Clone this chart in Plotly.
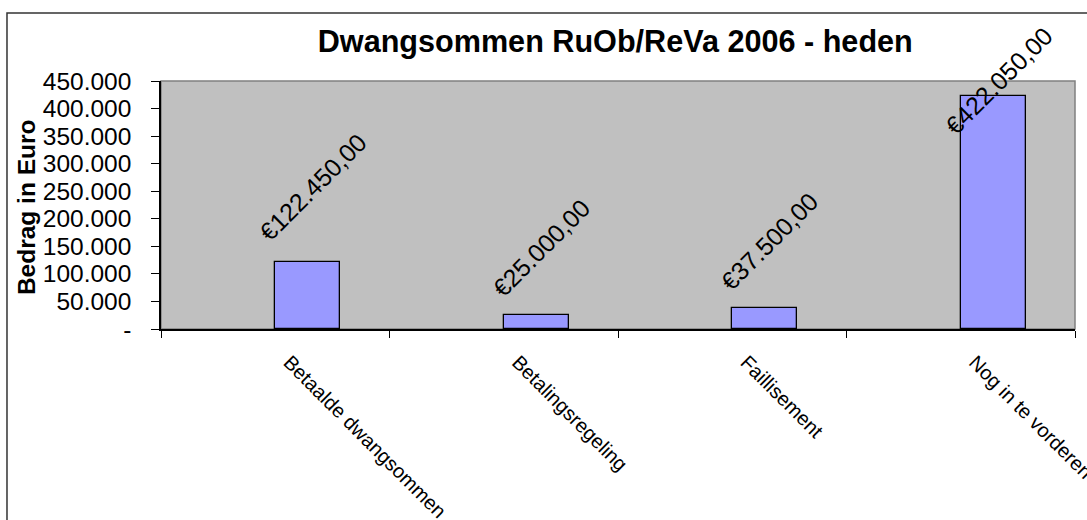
import plotly.graph_objects as go

# ---- data ----
categories = ["Betaalde dwangsommen", "Betalingsregeling", "Faillisement", "Nog in te vorderen"]
amounts = [122450, 25000, 37500, 422050]
y_tick_values = [0, 50000, 100000, 150000, 200000, 250000, 300000, 350000, 400000, 450000]
y_tick_labels = ["-", "50.000", "100.000", "150.000", "200.000", "250.000",
                 "300.000", "350.000", "400.000", "450.000"]
title_text = "Dwangsommen RuOb/ReVa 2006 - heden"
y_title = "Bedrag in Euro"


def euro(v):
    s = f"{v:,.2f}".replace(",", "X").replace(".", ",").replace("X", ".")
    return "\u20ac" + s


bar_labels = [euro(v) for v in amounts]

FONT = "Arial, Liberation Sans, sans-serif"
BAR_W = 0.285
label_yshift = [13, 10, 10, -46]

x_idx = list(range(len(categories)))

fig = go.Figure()
fig.add_trace(go.Bar(
    x=x_idx, y=amounts, width=BAR_W, offset=0,
    marker=dict(color="#9999FF", line=dict(color="#000000", width=1.3)),
    hoverinfo="skip",
))

for i, (v, t) in enumerate(zip(amounts, bar_labels)):
    fig.add_annotation(
        x=i + BAR_W / 2, y=v, xref="x", yref="y", text=t, textangle=-45,
        showarrow=False, xanchor="center", yanchor="bottom",
        xshift=5, yshift=label_yshift[i],
        font=dict(family=FONT, size=25, color="#000000"),
    )

fig.add_annotation(
    xref="paper", yref="paper", x=-0.147, y=0.49, text=f"<b>{y_title}</b>",
    textangle=-90, showarrow=False, xanchor="center", yanchor="middle",
    font=dict(family=FONT, size=24.5, color="#000000"),
)

# plot area with gray border
fig.add_shape(type="rect", xref="paper", yref="paper", x0=0, x1=1, y0=0, y1=1,
              fillcolor="#C0C0C0", line=dict(color="#808080", width=1.5), layer="below")
# outer chart frame
fig.add_shape(type="rect", xref="paper", yref="paper", x0=-0.1685, x1=1.05, y0=-0.85, y1=1.274,
              fillcolor="rgba(0,0,0,0)", line=dict(color="#333333", width=1.5), layer="below")

fig.update_layout(
    width=1087, height=520,
    margin=dict(l=161, r=12, t=81, b=191, autoexpand=False),
    paper_bgcolor="#FFFFFF", plot_bgcolor="#C0C0C0",
    showlegend=False,
    title=dict(text=f"<b>{title_text}</b>", x=0.497, xref="paper", xanchor="center",
               y=1 - 41 / 520, yref="container", yanchor="middle",
               font=dict(family=FONT, size=30.6, color="#000000")),
    font=dict(family=FONT, color="#000000"),
    bargap=0,
)

fig.update_xaxes(
    type="linear", range=[-0.5, len(categories) - 0.5], automargin=False,
    tickmode="array", tickvals=x_idx, ticktext=categories,
    tickangle=45, showgrid=False, zeroline=False,
    showline=True, linecolor="#000000", linewidth=1.5,
    ticks="", tickfont=dict(family=FONT, size=20, color="#000000"),
    ticklabelstandoff=12, ticklabelshift=14, ticklabeloverflow="allow",
    fixedrange=True,
)
# boundary ticks via minor ticks
fig.update_xaxes(minor=dict(tickmode="array", tickvals=[i - 0.5 for i in range(len(categories) + 1)],
                            ticks="outside", ticklen=7, tickcolor="#000000", tickwidth=1.2,
                            showgrid=False))

fig.update_yaxes(
    range=[0, 450000], tickmode="array", tickvals=y_tick_values, ticktext=y_tick_labels,
    automargin=False,
    showgrid=False, zeroline=False,
    showline=True, linecolor="#000000", linewidth=1.5,
    ticks="outside", ticklen=8, tickcolor="#000000", tickwidth=1.2,
    tickfont=dict(family=FONT, size=24.5, color="#000000"),
    ticklabelstandoff=15, fixedrange=True,
)

fig.write_html("out.html", config={"displayModeBar": False},
               post_script="document.body.style.margin='0';")
